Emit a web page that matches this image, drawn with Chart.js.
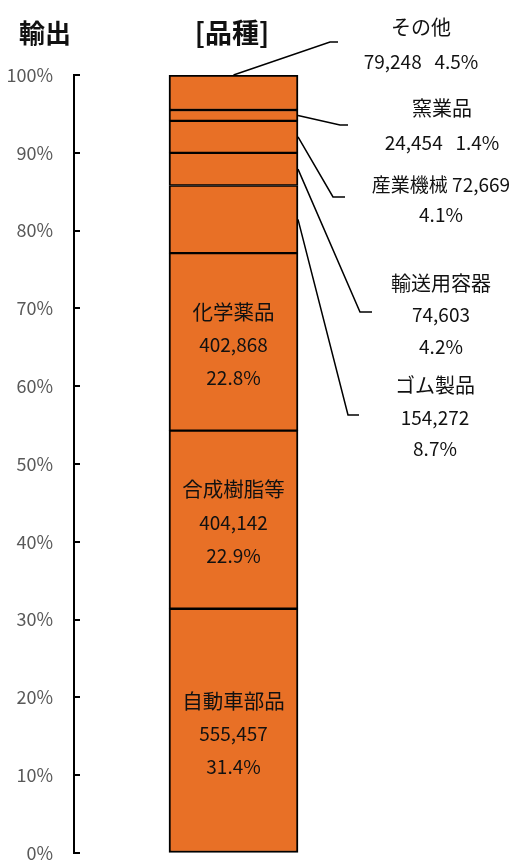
<!DOCTYPE html>
<html>
<head>
<meta charset="utf-8">
<script src="https://cdn.jsdelivr.net/npm/chart.js@4"></script>
<style>
  html, body { margin: 0; padding: 0; background: #fff; }
  #wrap { width: 513px; height: 864px; }
</style>
</head>
<body>
<div id="wrap"><canvas id="exportChart" width="513" height="864"></canvas></div>
<script>
// 品種別 輸出 (下から順)
const names = ['自動車部品', '合成樹脂等', '化学薬品', 'ゴム製品', '輸送用容器', '産業機械', '窯業品', 'その他']
const counts = ['555,457', '404,142', '402,868', '154,272', '74,603', '72,669', '24,454', '79,248']
const shares = [31.4, 22.9, 22.8, 8.7, 4.2, 4.1, 1.4, 4.5]
const yTicks = [0, 10, 20, 30, 40, 50, 60, 70, 80, 90, 100]

const FONT = '"Noto Sans CJK JP", "Noto Sans", sans-serif'
Chart.defaults.font.family = FONT

const pct = i => shares[i].toFixed(1) + '%'

// 外側ラベルの配置 (行ごとの文字・大きさ, 引出線の折れ点と終点)
const outside = {
  3: { x: 435, ys: [385, 418, 449], lines: i => [[names[i], 20], [counts[i], 19], [pct(i), 19]], elbow: [348, 415], end: [359, 415] },
  4: { x: 441, ys: [283, 315, 347], lines: i => [[names[i], 20], [counts[i], 19], [pct(i), 19]], elbow: [360, 312], end: [372, 312] },
  5: { x: 441, ys: [185, 215], lines: i => [[names[i] + ' ' + counts[i], 19], [pct(i), 19]], elbow: [333, 197], end: [345, 197] },
  6: { x: 442, ys: [108, 143], lines: i => [[names[i], 20], [counts[i] + '   ' + pct(i), 19]], elbow: [340, 125], end: [348, 125] },
  7: { x: 421, ys: [27, 62], lines: i => [[names[i], 20], [counts[i] + '   ' + pct(i), 19]], elbow: [330, 42], end: [338, 42], fromTop: true }
}

const labelPlugin = {
  id: 'labels',
  afterDraw(chart) {
    const ctx = chart.ctx
    const y = chart.scales.y
    ctx.save()

    // 軸の目盛(内向き)
    ctx.strokeStyle = '#000'
    ctx.lineWidth = 2
    yTicks.forEach(t => {
      const py = Math.round(y.getPixelForValue(t))
      ctx.beginPath()
      ctx.moveTo(chart.chartArea.left, py)
      ctx.lineTo(chart.chartArea.left + 6, py)
      ctx.stroke()
    })

    // タイトル
    ctx.fillStyle = '#111'
    ctx.textAlign = 'center'
    ctx.textBaseline = 'middle'
    ctx.font = 'bold 26px ' + FONT
    ctx.fillText('輸出', 45, 33)
    ctx.font = 'bold 27px ' + FONT
    ctx.fillText('[品種]', 232, 33)

    let cum = 0
    names.forEach((name, i) => {
      const meta = chart.getDatasetMeta(i).data[0]
      const lo = cum, hi = cum + shares[i]
      cum = hi
      const yTop = y.getPixelForValue(hi)
      const yBot = y.getPixelForValue(lo)
      const mid = (yTop + yBot) / 2
      const right = meta.x + meta.width / 2

      ctx.fillStyle = '#111'
      if (i < 3) {
        const lines = [[name, 20.5], [counts[i], 19], [pct(i), 19]]
        lines.forEach(([t, sz], k) => {
          ctx.font = sz + 'px ' + FONT
          ctx.fillText(t, meta.x, mid + 3 + (k - 1) * 33)
        })
        return
      }
      const o = outside[i]
      o.lines(i).forEach(([t, sz], k) => {
        ctx.font = sz + 'px ' + FONT
        ctx.fillText(t, o.x, o.ys[k])
      })

      ctx.strokeStyle = '#000'
      ctx.lineWidth = 1.5
      ctx.beginPath()
      if (o.fromTop) ctx.moveTo(meta.x, yTop)
      else ctx.moveTo(right, mid)
      ctx.lineTo(o.elbow[0], o.elbow[1])
      ctx.lineTo(o.end[0], o.end[1])
      ctx.stroke()
    })
    ctx.restore()
  }
}

const last = names.length - 1
const datasets = names.map((name, i) => ({
  label: name,
  data: [shares[i]],
  backgroundColor: '#E87026',
  borderColor: '#000',
  borderWidth: { left: 2, right: 2, top: i === last ? 2 : 1.5, bottom: i === 0 ? 2 : 1.5 },
  borderSkipped: false,
  barThickness: 129
}))

new Chart('exportChart', {
  type: 'bar',
  data: { labels: ['品種'], datasets },
  options: {
    responsive: false,
    animation: false,
    layout: { padding: { top: 75, bottom: 11, left: 0, right: 120 } },
    plugins: {
      legend: { display: false },
      tooltip: { enabled: false }
    },
    scales: {
      x: { display: false, stacked: true },
      y: {
        stacked: true,
        min: 0,
        max: 100,
        afterFit: s => {
          s.width = 74
          s.paddingTop = 0
          s.paddingBottom = 0
        },
        afterBuildTicks: s => { s.ticks = yTicks.map(v => ({ value: v })) },
        grid: { display: true, drawOnChartArea: false, drawTicks: false },
        border: { display: true, color: '#000', width: 2 },
        ticks: {
          padding: 21,
          color: '#595959',
          font: { size: 18 },
          callback: v => v + '%'
        }
      }
    }
  },
  plugins: [labelPlugin]
})
</script>
</body>
</html>
